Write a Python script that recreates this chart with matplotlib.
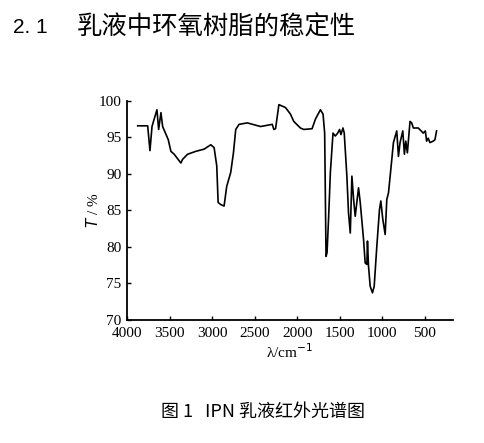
import matplotlib
matplotlib.use("Agg")
from matplotlib import pyplot as plt

# IR spectrum: wavenumber (cm-1) and transmittance (%)
wavenumber = [3875, 3758, 3731, 3707, 3672, 3649, 3629, 3602, 3582, 3516, 3485,
              3446, 3368, 3348, 3289, 3193, 3095, 3016, 2977, 2946, 2930, 2899,
              2860, 2829, 2782, 2750, 2723, 2684, 2587, 2431, 2294, 2275, 2255,
              2216, 2138, 2080, 2041, 1963, 1924, 1826, 1787, 1728, 1697, 1678,
              1662, 1650, 1631, 1611, 1580, 1553, 1525, 1503, 1487, 1463, 1448,
              1417, 1398, 1377, 1358, 1338, 1319, 1280, 1260, 1221, 1202, 1182,
              1175, 1163, 1143, 1116, 1096, 1065, 1034, 1018, 995, 967, 948, 928,
              889, 870, 831, 811, 792, 760, 741, 725, 706, 675, 655, 636, 578,
              519, 495, 480, 461, 441, 402, 382, 363]
transmittance = [96.6, 96.6, 93.2, 96.5, 97.9, 98.8, 96.1, 98.4, 96.5, 94.7, 93.1,
                 92.7, 91.5, 92.0, 92.7, 93.1, 93.4, 94.0, 93.6, 91.1, 86.1, 85.8,
                 85.6, 88.3, 90.2, 92.9, 96.1, 96.8, 97.0, 96.5, 96.8, 96.1, 96.2,
                 99.5, 99.1, 98.2, 97.2, 96.3, 96.1, 96.2, 97.5, 98.8, 98.2, 95.6,
                 78.7, 79.2, 84.2, 90.2, 95.6, 95.2, 95.6, 96.1, 95.4, 96.3, 95.6,
                 89.7, 84.7, 81.9, 89.7, 86.5, 84.2, 88.1, 86.1, 81.0, 77.8, 77.6,
                 80.8, 77.4, 74.6, 73.7, 74.6, 80.1, 85.1, 86.3, 83.8, 81.7, 86.5, 87.4,
                 92.0, 94.3, 95.9, 92.4, 94.3, 95.9, 92.7, 94.5, 92.9, 97.2, 97.0, 96.3, 96.3,
                 95.6, 95.9, 94.5, 94.9, 94.3, 94.5, 94.7, 95.9]

x_ticks = [4000, 3500, 3000, 2500, 2000, 1500, 1000, 500]
y_ticks = [70, 75, 80, 85, 90, 95, 100]

plt.rcParams['font.family'] = ['Liberation Serif', 'Noto Sans CJK SC']
cjk = ["Noto Sans CJK SC", "DejaVu Sans"]

fig = plt.figure(figsize=(4.85, 4.43), dpi=100)
ax = fig.add_axes([0.262, 0.278, 0.672, 0.494])

ax.plot(wavenumber, transmittance, color="black", linewidth=1.2)

ax.set_xlim(4000, 170)
ax.set_ylim(70, 100)
ax.set_xticks(x_ticks)
ax.set_yticks(y_ticks)
ax.tick_params(direction="in", length=3, width=1, labelsize=11)
ax.tick_params(axis="x", pad=5)
ax.tick_params(axis="y", pad=4)
for s in ["top", "right"]:
    ax.spines[s].set_visible(False)
for s in ["left", "bottom"]:
    ax.spines[s].set_linewidth(1.3)

ax.set_ylabel("$T$ / %", fontsize=11, labelpad=-2)
ax.set_xlabel("λ/cm$^{-1}$", fontsize=11, labelpad=2)

# section heading
fig.text(0.027, 0.937, "2. 1", fontsize=15, family="Liberation Sans", va="center")
fig.text(0.158, 0.937, "乳液中环氧树脂的稳定性", fontsize=18.3, family=cjk, va="center")

# figure caption
fig.text(0.542, 0.07, "图 1   IPN 乳液红外光谱图", fontsize=13,
         family=cjk, ha="center", va="center")

fig.savefig("out.png", dpi=100)
